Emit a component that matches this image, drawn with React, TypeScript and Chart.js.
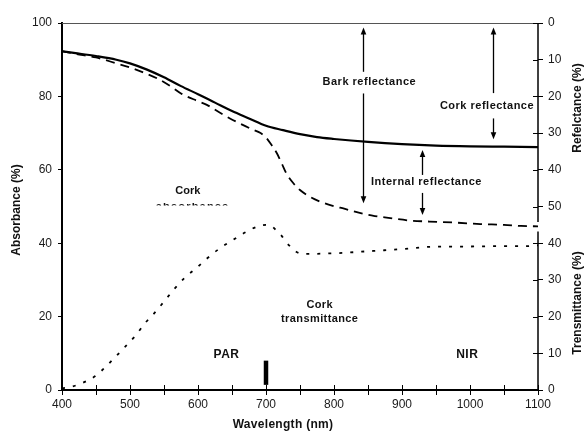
import React, { useEffect, useRef } from 'react';
import { Chart, registerables } from 'chart.js';
Chart.register(...registerables);

// ---- data (wavelength nm, absorbance %) ----
const barkWavelengths = [400, 420, 450, 480, 500, 525, 550, 575, 600, 625, 650, 675, 700, 725, 750, 775, 800, 850, 900, 950, 1000, 1050, 1100];
const barkAbsorbance = [92.3, 91.8, 91.0, 90.0, 89.0, 87.3, 85.2, 82.8, 80.6, 78.3, 76.0, 74.0, 72.0, 70.8, 69.7, 68.9, 68.4, 67.6, 67.0, 66.6, 66.4, 66.3, 66.2];

const corkWavelengths = [400, 420, 450, 480, 500, 520, 540, 560, 575, 600, 613, 630, 647, 665, 680, 692, 701, 708, 716, 723, 730, 740, 750, 765, 780, 800, 815, 843, 860, 880, 910, 940, 980, 1015, 1050, 1075, 1100];
const corkAbsorbance = [92.3, 91.6, 90.6, 89.0, 87.9, 86.5, 84.9, 82.7, 80.8, 78.7, 77.7, 75.8, 74.0, 72.3, 71.0, 70.0, 68.6, 66.8, 64.5, 61.8, 59.0, 56.4, 54.5, 52.6, 51.3, 50.1, 49.4, 48.0, 47.4, 46.9, 46.2, 45.9, 45.6, 45.2, 45.0, 44.7, 44.6];

const transWavelengths = [400, 414, 431, 449, 463, 479, 494, 508, 522, 537, 550, 565, 581, 598, 615, 632, 650, 669, 687, 700, 706, 715, 723, 730, 737, 745, 754, 771, 789, 807, 850, 900, 941, 1000, 1050, 1084, 1100];
const corkTransmittance = [0.5, 0.9, 2.0, 3.8, 6.1, 9.1, 12.0, 14.8, 18.2, 21.2, 24.1, 27.5, 30.7, 33.3, 36.1, 38.6, 40.7, 42.9, 44.5, 45.0, 44.9, 43.5, 42.0, 40.2, 38.9, 37.6, 37.1, 37.1, 37.2, 37.3, 37.8, 38.4, 39.0, 39.1, 39.2, 39.2, 39.4];

const markerWavelengths = [700, 700];
const markerValues = [1.4, 8.0];

const xTicks = [400, 500, 600, 700, 800, 900, 1000, 1100];
const leftTicks = [0, 20, 40, 60, 80, 100];
const reflectanceTicks = [0, 10, 20, 30, 40, 50];
const transmittanceTicks = [0, 10, 20, 30, 40];

const FONT = "Arial, 'Liberation Sans', sans-serif";

const pts = (xs: number[], ys: number[]) => xs.map((x, i) => ({ x, y: ys[i] }));

const overlay = {
  id: 'overlay',
  afterDatasetsDraw(chart: any) {
    const { ctx, chartArea: ca, scales } = chart;
    const xs = scales.x;
    const ys = scales.y;
    const X = (v: number) => xs.getPixelForValue(v);
    const Y = (v: number) => ys.getPixelForValue(v);
    const seg = (x1: number, y1: number, x2: number, y2: number) => {
      ctx.beginPath();
      ctx.moveTo(x1, y1);
      ctx.lineTo(x2, y2);
      ctx.stroke();
    };
    ctx.save();
    // top frame line
    ctx.strokeStyle = '#555';
    ctx.lineWidth = 1;
    seg(ca.left, ca.top + 0.5, ca.right, ca.top + 0.5);
    // right axis line with gap
    ctx.strokeStyle = '#000';
    ctx.lineWidth = 1.5;
    seg(ca.right, Y(100), ca.right, Y(45.8));
    seg(ca.right, Y(43.2), ca.right, Y(0));
    // inward parts of crossing ticks
    ctx.lineWidth = 1;
    reflectanceTicks.forEach((r) => seg(ca.right - 5, Math.round(Y(100 - r)) + 0.5, ca.right, Math.round(Y(100 - r)) + 0.5));
    transmittanceTicks.forEach((t) => seg(ca.right - 5, Math.round(Y(t)) + 0.5, ca.right, Math.round(Y(t)) + 0.5));
    for (let v = 400; v <= 1100; v += 50) {
      const px = Math.round(X(v)) + 0.5;
      seg(px, ca.bottom - 5, px, ca.bottom);
    }

    // arrows
    const arrowHead = (px: number, py: number, dir: number) => {
      ctx.beginPath();
      ctx.moveTo(px, py);
      ctx.lineTo(px - 2.8, py - dir * 7);
      ctx.lineTo(px + 2.8, py - dir * 7);
      ctx.closePath();
      ctx.fill();
    };
    ctx.fillStyle = '#000';
    ctx.strokeStyle = '#000';
    ctx.lineWidth = 1.3;
    const vArrow = (nm: number, a1: number, a2: number, headUp: boolean, headDown: boolean) => {
      const px = Math.round(X(nm)) + 0.5;
      const y1 = Y(a1);
      const y2 = Y(a2);
      seg(px, y1 + (headUp ? 5 : 0), px, y2 - (headDown ? 5 : 0));
      if (headUp) arrowHead(px, y1, -1);
      if (headDown) arrowHead(px, y2, 1);
    };
    // Bark reflectance
    vArrow(842, 98.8, 86.7, true, false);
    vArrow(842, 80.8, 50.9, false, true);
    // Internal reflectance
    vArrow(930, 65.4, 58.6, true, false);
    vArrow(930, 53.7, 47.7, false, true);
    // Cork reflectance
    vArrow(1034, 98.8, 80.9, true, false);
    vArrow(1034, 74.0, 68.3, false, true);

    // texts
    const text = (s: string, nm: number, a: number, size = 11, spacing = '0.5px') => {
      ctx.font = `bold ${size}px ${FONT}`;
      (ctx as any).letterSpacing = spacing;
      ctx.textAlign = 'center';
      ctx.textBaseline = 'middle';
      ctx.fillStyle = '#111';
      ctx.fillText(s, X(nm), Y(a));
    };
    text('Bark reflectance', 852, 84.0);
    text('Internal reflectance', 936, 56.8);
    text('Cork reflectance', 1025, 77.4);
    text('Cork', 585, 54.2, 11, '0px');
    text('Cork', 779, 23.2, 11, '0.3px');
    text('transmittance', 779, 19.3, 11, '0.4px');
    text('PAR', 642, 9.7, 12, '0.5px');
    text('NIR', 996, 9.7, 12, '0.5px');

    // "absorbance" partly hidden (only a thin strip visible)
    ctx.save();
    const ay = Y(50.6);
    ctx.beginPath();
    ctx.rect(X(592) - 45, ay - 1.2, 90, 2.3);
    ctx.clip();
    ctx.font = `bold 11px ${FONT}`;
    (ctx as any).letterSpacing = '1.2px';
    ctx.textAlign = 'center';
    ctx.textBaseline = 'alphabetic';
    ctx.fillStyle = '#111';
    ctx.fillText('absorbance', X(592), ay + 5.4);
    ctx.restore();

    // axis titles
    (ctx as any).letterSpacing = '0px';
    ctx.font = `bold 12px ${FONT}`;
    ctx.fillStyle = '#111';
    ctx.textAlign = 'center';
    ctx.textBaseline = 'middle';
    (ctx as any).letterSpacing = '0.3px';
    ctx.fillText('Wavelength (nm)', 283, 425);
    (ctx as any).letterSpacing = '0px';
    const vText = (s: string, px: number, py: number) => {
      ctx.save();
      ctx.translate(px, py);
      ctx.rotate(-Math.PI / 2);
      ctx.fillText(s, 0, 0);
      ctx.restore();
    };
    vText('Absorbance (%)', 17, 210);
    vText('Refelctance (%)', 578, 108);
    vText('Trensmittance (%)', 578, 303);
    ctx.restore();
  },
};

export default function App() {
  const ref = useRef<HTMLCanvasElement>(null);
  useEffect(() => {
    document.body.style.margin = '0';
    const canvas = ref.current!;
    const chart = new Chart(canvas, {
      type: 'line',
      data: {
        datasets: [
          {
            label: 'Cork absorbance',
            data: pts(corkWavelengths, corkAbsorbance),
            borderColor: '#000',
            borderWidth: 1.8,
            borderDash: [9, 6],
            pointRadius: 0,
            cubicInterpolationMode: 'monotone',
          },
          {
            label: 'Cork transmittance',
            data: pts(transWavelengths, corkTransmittance),
            borderColor: '#000',
            borderWidth: 1.8,
            borderDash: [3, 8],
            pointRadius: 0,
            cubicInterpolationMode: 'monotone',
          },
          {
            label: 'Bark absorbance',
            data: pts(barkWavelengths, barkAbsorbance),
            borderColor: '#000',
            borderWidth: 2.2,
            pointRadius: 0,
            cubicInterpolationMode: 'monotone',
          },
          {
            label: 'PAR/NIR',
            data: pts(markerWavelengths, markerValues),
            borderColor: '#000',
            borderWidth: 4.5,
            borderCapStyle: 'butt',
            pointRadius: 0,
          },
        ],
      },
      options: {
        responsive: false,
        devicePixelRatio: 1,
        animation: false,
        layout: { padding: { top: 23, left: 0, right: 0, bottom: 0 } },
        plugins: { legend: { display: false }, tooltip: { enabled: false } },
        scales: {
          x: {
            type: 'linear',
            min: 400,
            max: 1100,
            ticks: {
              stepSize: 50,
              autoSkip: false,
              maxRotation: 0,
              callback: (v: any) => (xTicks.includes(Number(v)) ? String(v) : ''),
              font: { family: FONT, size: 12 },
              color: '#1a1a1a',
              padding: 2,
            },
            grid: { drawOnChartArea: false, tickLength: 5, color: '#000', lineWidth: 1 },
            border: { color: '#000', width: 2 },
            afterFit: (s: any) => {
              s.height = 49;
            },
          },
          y: {
            position: 'left',
            min: 0,
            max: 100,
            afterBuildTicks: (s: any) => {
              s.ticks = leftTicks.map((v) => ({ value: v }));
            },
            ticks: { font: { family: FONT, size: 12 }, color: '#1a1a1a', padding: 6 },
            grid: { drawOnChartArea: false, tickLength: 4, color: '#000', lineWidth: 1 },
            border: { color: '#000', width: 2 },
            afterFit: (s: any) => {
              s.width = 62;
            },
          },
          yR: {
            position: 'right',
            min: 0,
            max: 100,
            afterBuildTicks: (s: any) => {
              s.ticks = [
                ...reflectanceTicks.map((r) => ({ value: 100 - r })),
                ...transmittanceTicks.map((t) => ({ value: t })),
              ].sort((a, b) => a.value - b.value);
            },
            ticks: {
              callback: (v: any) => {
                const n = Number(v);
                return n >= 50 ? String(100 - n) : String(n);
              },
              font: { family: FONT, size: 12 },
              color: '#1a1a1a',
              padding: 5,
            },
            grid: { drawOnChartArea: false, tickLength: 5, color: '#000', lineWidth: 1 },
            border: { display: false },
            afterFit: (s: any) => {
              s.width = 50;
            },
          },
        },
      } as any,
      plugins: [overlay],
    });
    return () => chart.destroy();
  }, []);
  return (
    <div style={{ width: 588, height: 439 }}>
      <canvas ref={ref} width={588} height={439} style={{ display: 'block', width: 588, height: 439 }} />
    </div>
  );
}
